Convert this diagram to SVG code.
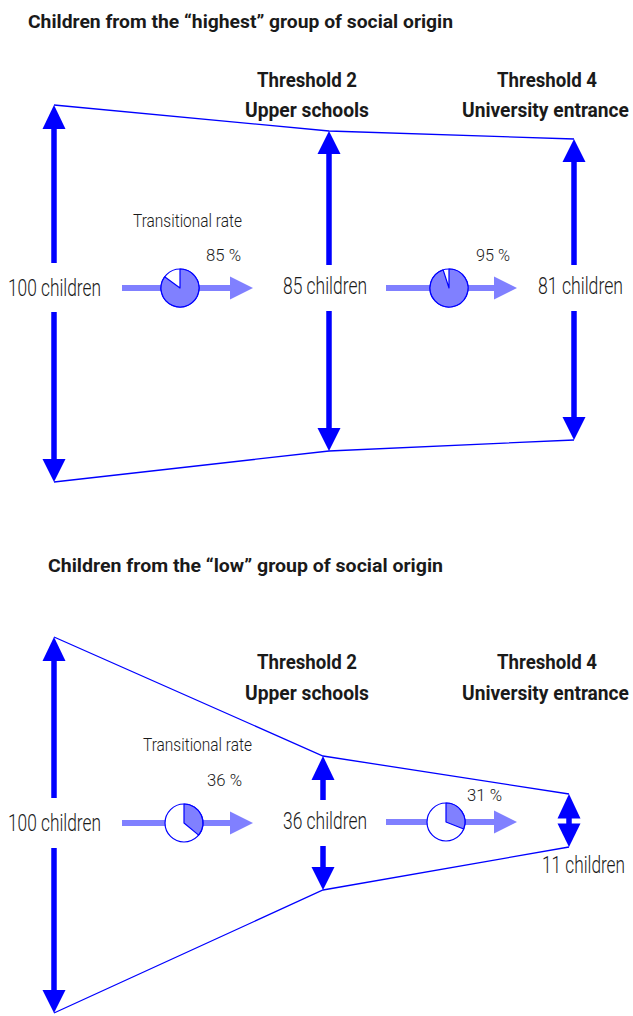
<svg xmlns="http://www.w3.org/2000/svg" width="633" height="1016" viewBox="0 0 633 1016">
<style>
text{font-family:Roboto,"Liberation Sans",sans-serif;fill:#1a1a1a}
.t{font-size:18px;font-weight:bold}
.h{font-size:21px;font-weight:bold}
.n{font-size:23px;font-weight:300}
.s{font-size:18px;font-weight:300}
.p{font-size:17px;font-weight:300}
.edge{fill:none;stroke:#0000ff;stroke-width:1.3}
.sh{stroke:#0000ff;stroke-width:5.5}
.hd{fill:#0000ff}
.lsh{stroke:#8080ff;stroke-width:6}
.lhd{fill:#8080ff}
.pw{fill:#fff;stroke:#0000ff;stroke-width:1.2}
.pf{fill:#8080ff;stroke:#0000ff;stroke-width:1.2;stroke-linejoin:round}
</style>
<rect width="633" height="1016" fill="#fff"/>

<g id="section-highest">
<text class="t" x="28" y="28" textLength="425" lengthAdjust="spacingAndGlyphs">Children from the “highest” group of social origin</text>
<g id="connectors-top">
<polyline class="edge" points="54,105 329,131 574,139"/>
<polyline class="edge" points="54,482 329,451 574,440"/>
<line class="sh" x1="54" y1="128" x2="54" y2="263"/>
<polygon class="hd" points="54,105 42.5,129 65.5,129"/>
<line class="sh" x1="54" y1="312" x2="54" y2="460"/>
<polygon class="hd" points="54,482 42.5,459 65.5,459"/>
<line class="sh" x1="329" y1="153" x2="329" y2="265"/>
<polygon class="hd" points="329,131 317.5,154 340.5,154"/>
<line class="sh" x1="329" y1="311" x2="329" y2="429"/>
<polygon class="hd" points="329,451 317.5,428 340.5,428"/>
<line class="sh" x1="574" y1="161" x2="574" y2="265"/>
<polygon class="hd" points="574,139 562.5,162 585.5,162"/>
<line class="sh" x1="574" y1="311" x2="574" y2="418"/>
<polygon class="hd" points="574,440 562.5,417 585.5,417"/>
<line class="lsh" x1="122" y1="288" x2="231" y2="288"/>
<polygon class="lhd" points="230,276.5 253,288 230,299.5"/>
<line class="lsh" x1="386" y1="288" x2="495" y2="288"/>
<polygon class="lhd" points="494,276.5 517,288 494,299.5"/>
</g>
<g id="th2-top">
<text class="h" x="257" y="87" textLength="100" lengthAdjust="spacingAndGlyphs">Threshold 2</text>
<text class="h" x="245" y="117" textLength="124" lengthAdjust="spacingAndGlyphs">Upper schools</text>
</g>
<g id="th4-top">
<text class="h" x="497" y="87" textLength="100" lengthAdjust="spacingAndGlyphs">Threshold 4</text>
<text class="h" transform="translate(462,117) scale(0.92,1)" x="0" y="0" textLength="181.5" lengthAdjust="spacingAndGlyphs">University entrance</text>
</g>
<g id="n100-top"><text class="n" x="8" y="296" textLength="93" lengthAdjust="spacingAndGlyphs">100 children</text></g>
<g id="n85"><text class="n" x="283" y="294" textLength="84" lengthAdjust="spacingAndGlyphs">85 children</text></g>
<g id="n81"><text class="n" transform="translate(538,294) scale(0.74,1)" x="0" y="0" textLength="114.9" lengthAdjust="spacingAndGlyphs">81 children</text></g>
<g id="rate85">
<text class="s" x="133" y="227" textLength="109" lengthAdjust="spacingAndGlyphs">Transitional rate</text>
<text class="p" x="206" y="261" textLength="35" lengthAdjust="spacingAndGlyphs">85 %</text>
<circle class="pw" cx="180" cy="288" r="19"/>
<path class="pf" d="M180,288 L180,269 A19,19 0 1 1 164.63,276.83 Z"/>
</g>
<g id="rate95">
<text class="p" x="476" y="261" textLength="34" lengthAdjust="spacingAndGlyphs">95 %</text>
<circle class="pw" cx="449" cy="288" r="19"/>
<path class="pf" d="M449,288 L449,269 A19,19 0 1 1 443.13,269.93 Z"/>
</g>
</g>

<g id="section-low">
<text class="t" x="48" y="572" textLength="395" lengthAdjust="spacingAndGlyphs">Children from the “low” group of social origin</text>
<g id="connectors-bottom">
<polyline class="edge" points="54,637 323,756 569,794"/>
<polyline class="edge" points="54,1013 323,890 569,847"/>
<line class="sh" x1="54" y1="660" x2="54" y2="798"/>
<polygon class="hd" points="54,637 42.5,661 65.5,661"/>
<line class="sh" x1="54" y1="848" x2="54" y2="991"/>
<polygon class="hd" points="54,1013 42.5,990 65.5,990"/>
<line class="sh" x1="323" y1="779" x2="323" y2="800"/>
<polygon class="hd" points="323,756 311.5,780 334.5,780"/>
<line class="sh" x1="323" y1="846" x2="323" y2="868"/>
<polygon class="hd" points="323,890 311.5,867 334.5,867"/>
<line class="sh" x1="569" y1="818" x2="569" y2="824"/>
<polygon class="hd" points="569,794 557.5,818.5 580.5,818.5"/>
<polygon class="hd" points="569,847 557.5,823.5 580.5,823.5"/>
<line class="lsh" x1="122" y1="823" x2="231" y2="823"/>
<polygon class="lhd" points="230,811.5 253,823 230,834.5"/>
<line class="lsh" x1="386" y1="822" x2="495" y2="822"/>
<polygon class="lhd" points="494,810.5 517,822 494,833.5"/>
</g>
<g id="th2-bottom">
<text class="h" x="257" y="669" textLength="100" lengthAdjust="spacingAndGlyphs">Threshold 2</text>
<text class="h" x="245" y="700" textLength="124" lengthAdjust="spacingAndGlyphs">Upper schools</text>
</g>
<g id="th4-bottom">
<text class="h" x="497" y="669" textLength="100" lengthAdjust="spacingAndGlyphs">Threshold 4</text>
<text class="h" transform="translate(462,700) scale(0.92,1)" x="0" y="0" textLength="181.5" lengthAdjust="spacingAndGlyphs">University entrance</text>
</g>
<g id="n100-bottom"><text class="n" x="8" y="831" textLength="93" lengthAdjust="spacingAndGlyphs">100 children</text></g>
<g id="n36"><text class="n" x="283" y="829" textLength="84" lengthAdjust="spacingAndGlyphs">36 children</text></g>
<g id="n11"><text class="n" transform="translate(542,873) scale(0.73,1)" x="0" y="0" textLength="113.7" lengthAdjust="spacingAndGlyphs">11 children</text></g>
<g id="rate36">
<text class="s" x="143" y="751" textLength="109" lengthAdjust="spacingAndGlyphs">Transitional rate</text>
<text class="p" x="207" y="786" textLength="35" lengthAdjust="spacingAndGlyphs">36 %</text>
<circle class="pw" cx="184" cy="823" r="19"/>
<path class="pf" d="M184,823 L184,804 A19,19 0 0 1 198.64,835.11 Z"/>
</g>
<g id="rate31">
<text class="p" x="467" y="801" textLength="35" lengthAdjust="spacingAndGlyphs">31 %</text>
<circle class="pw" cx="446" cy="822" r="19"/>
<path class="pf" d="M446,822 L446,803 A19,19 0 0 1 463.67,828.99 Z"/>
</g>
</g>
</svg>
